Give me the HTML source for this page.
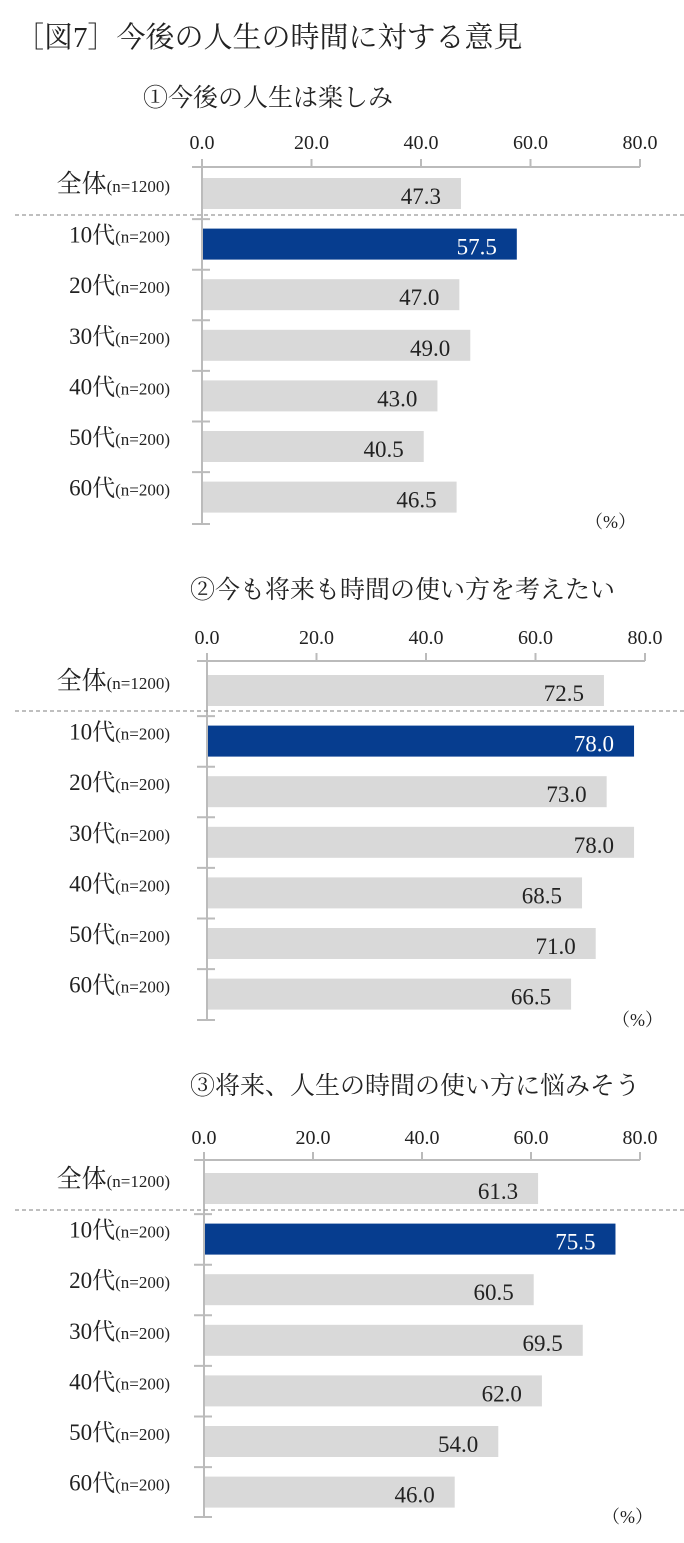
<!DOCTYPE html>
<html><head><meta charset="utf-8">
<style>
body{margin:0;background:#fff;}
svg text{font-family:"Liberation Serif","Noto Serif CJK SC",serif;fill:#222;}
</style></head>
<body>
<svg id="root" width="684" height="1538" viewBox="0 0 684 1538">
<text x="15" y="47" font-size="29">［図7］今後の人生の時間に対する意見</text>
</svg>
<script>
const categories = ["全体","10代","20代","30代","40代","50代","60代"];
const sampleSizes = ["(n=1200)","(n=200)","(n=200)","(n=200)","(n=200)","(n=200)","(n=200)"];
const tickValues = [0,20,40,60,80];
const tickLabels = ["0.0","20.0","40.0","60.0","80.0"];
const titles = ["①今後の人生は楽しみ","②今も将来も時間の使い方を考えたい","③将来、人生の時間の使い方に悩みそう"];
const series1 = [47.3,57.5,47.0,49.0,43.0,40.5,46.5];
const series2 = [72.5,78.0,73.0,78.0,68.5,71.0,66.5];
const series3 = [61.3,75.5,60.5,69.5,62.0,54.0,46.0];
const allSeries = [series1,series2,series3];

const layouts = [
 {titleX:143,titleY:106,x0:202,x1:640,tickY:149,axisY:167,barTop:178,bottom:524,dashY:215,pctX:585,pctY:528},
 {titleX:190,titleY:598,x0:207,x1:645,tickY:644,axisY:661,barTop:675,bottom:1020,dashY:711,pctX:612,pctY:1026},
 {titleX:190,titleY:1094,x0:204,x1:640,tickY:1144,axisY:1160,barTop:1173,bottom:1517,dashY:1210,pctX:602,pctY:1523}
];
const NS="http://www.w3.org/2000/svg";
const root=document.getElementById('root');
function mk(tag,attrs,parent,text){const e=document.createElementNS(NS,tag);for(const k in attrs)e.setAttribute(k,attrs[k]);if(text!==undefined)e.textContent=text;parent.appendChild(e);return e;}
const pitch=50.6, barH=31;
layouts.forEach((L,ci)=>{
  const data=allSeries[ci];
  const g=mk('g',{},root);
  
  
  const xs=v=>L.x0+(L.x1-L.x0)*v/80;
  const t=mk('text',{x:L.titleX,y:L.titleY,'font-size':25},g,titles[ci]);
  
  
  // x axis
  const ax=mk('line',{x1:L.x0,y1:L.axisY,x2:L.x1,y2:L.axisY,stroke:'#bbb','stroke-width':2},g);
  
  
  tickValues.forEach((v,i)=>{
    const tk=mk('line',{x1:xs(v),y1:L.axisY-8,x2:xs(v),y2:L.axisY,stroke:'#bbb','stroke-width':2},g);
    
    
    const tl=mk('text',{x:xs(v),y:L.tickY,'font-size':20,'text-anchor':'middle'},g,tickLabels[i]);
    
    
  });
  // y axis
  const ya=mk('line',{x1:L.x0,y1:L.axisY-8,x2:L.x0,y2:L.bottom,stroke:'#bbb','stroke-width':2},g);
  
  
  for(let i=0;i<=categories.length;i++){
    const y=i===0?L.axisY:(i===categories.length?L.bottom:L.barTop+i*pitch-9.5);
    const yt=mk('line',{x1:L.x0-10,y1:y,x2:L.x0+8,y2:y,stroke:'#bbb','stroke-width':2},g);
    
    
  }
  const d=mk('line',{x1:15,y1:L.dashY,x2:684,y2:L.dashY,stroke:'#999','stroke-width':1.2,'stroke-dasharray':'4,3'},g);
  
  
  categories.forEach((c,i)=>{
    const y=L.barTop+i*pitch;
    const hl=i===1;
    const r=mk('rect',{x:L.x0+1,y:y,width:xs(data[i])-L.x0-1,height:barH,fill:hl?'#063d8f':'#d9d9d9'},g);
    
    
    const vl=mk('text',{x:xs(data[i])-20,y:y+barH-5,'font-size':23,'text-anchor':'end',style:hl?'fill:#fff':''},g,data[i].toFixed(1));
    
    
    const cl=mk('text',{x:170,y:y+14,'text-anchor':'end'},g);
    
    
    mk('tspan',{'font-size':i===0?25:23},cl,c);
    mk('tspan',{'font-size':17},cl,sampleSizes[i]);
  });
  const p=mk('text',{x:L.pctX,y:L.pctY,'font-size':18},g,'（%）');
  
  
});
</script>
</body></html>
